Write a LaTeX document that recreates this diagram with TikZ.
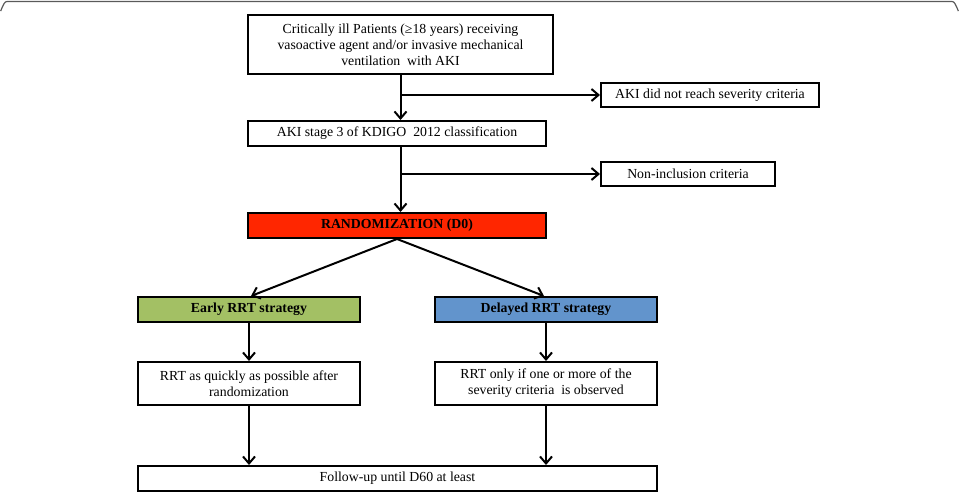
\documentclass[tikz,border=0pt]{standalone}
\usepackage{fontspec}
\setmainfont{Liberation Serif}
\usetikzlibrary{arrows.meta}
\definecolor{randred}{RGB}{255,38,0}
\definecolor{earlygreen}{RGB}{163,192,100}
\definecolor{delayblue}{RGB}{98,148,204}
\definecolor{framegray}{RGB}{90,90,90}
\begin{document}
\begin{tikzpicture}[x=1pt,y=-1pt,
  box/.style={draw=black,line width=2pt,inner sep=0pt,align=center,font=\fontsize{13.8}{16}\selectfont},
  boldbox/.style={box,font=\fontsize{13.8}{16}\selectfont\bfseries},
  arr/.style={line width=2pt,-{Straight Barb[length=7pt,width=12pt,line width=2pt]}}]
\useasboundingbox (0,0) rectangle (959,494);
\draw[framegray,line width=1.2pt] (0.5,10) to[out=-90,in=180] (7,1.5) -- (952,1.5) to[out=0,in=-90] (958.5,10);

\node[box,minimum width=305pt,minimum height=59pt] (b1) at (400.5,44.5)
  {Critically ill Patients (≥18 years) receiving\\vasoactive agent and/or invasive mechanical\\ventilation\ \ with AKI};
\node[box,minimum width=218pt,minimum height=24pt] (s1) at (710,95) {AKI did not reach severity criteria};
\node[box,minimum width=298pt,minimum height=25pt] (b2) at (397,133.5) {AKI stage 3 of KDIGO\ \ 2012 classification};
\node[box,minimum width=174pt,minimum height=24pt] (s2) at (688,174) {Non-inclusion criteria};
\node[boldbox,fill=randred,minimum width=298pt,minimum height=25pt] (rand) at (397,225.5) {RANDOMIZATION (D0)};
\node[boldbox,fill=earlygreen,minimum width=222pt,minimum height=25pt] (early) at (249,309.5) {Early RRT strategy};
\node[boldbox,fill=delayblue,minimum width=222pt,minimum height=25pt] (delay) at (546,309.5) {Delayed RRT strategy};
\node[box,minimum width=222pt,minimum height=43pt] (r1) at (249,383.5) {RRT as quickly as possible after\\randomization};
\node[box,minimum width=222pt,minimum height=43pt] (r2) at (546,383.5) {RRT only if one or more of the\\severity criteria\ \ is observed};
\node[box,minimum width=519pt,minimum height=25pt] (fu) at (397.5,478.5) {Follow-up until D60 at least};

\draw[arr] (b1.south) -- (b1.south |- b2.north);
\draw[arr] (b1.south |- s1.west) -- (s1.west);
\draw[arr] (b1.south |- b2.south) -- (b1.south |- rand.north);
\draw[arr] (b1.south |- s2.west) -- (s2.west);
\draw[arr] (rand.south) -- ([xshift=2pt]early.north);
\draw[arr] (rand.south) -- ([xshift=-2pt]delay.north);
\draw[arr] (early.south) -- (r1.north);
\draw[arr] (delay.south) -- (r2.north);
\draw[arr] (r1.south) -- (r1.south |- fu.north);
\draw[arr] (r2.south) -- (r2.south |- fu.north);
\end{tikzpicture}
\end{document}
